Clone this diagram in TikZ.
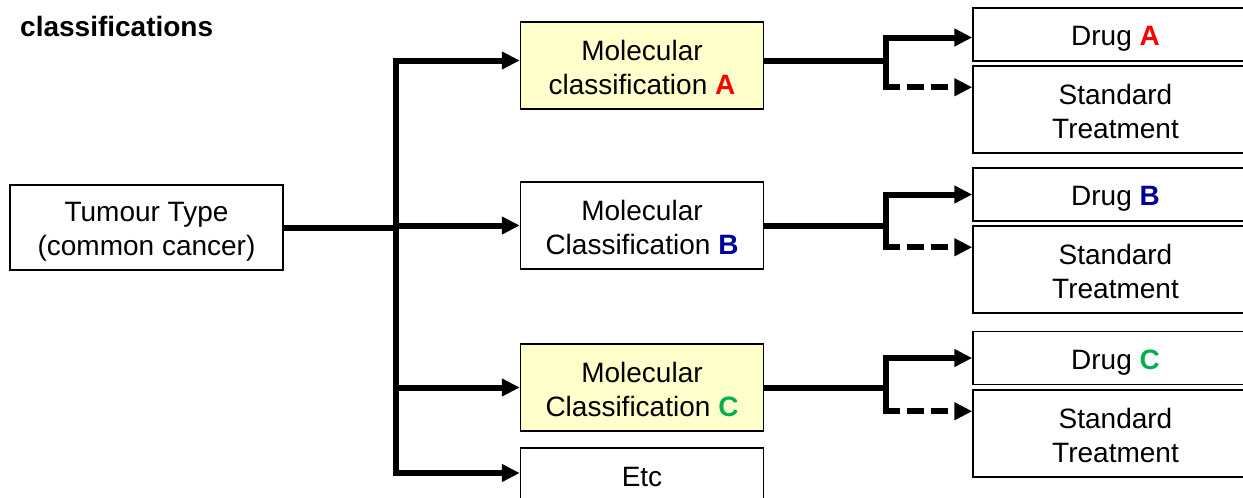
\documentclass[tikz,border=0pt]{standalone}
\usepackage{fontspec}
\setmainfont{Liberation Sans}
\usetikzlibrary{arrows.meta, calc}
\definecolor{molyellow}{HTML}{FFFFCC}
\definecolor{clsred}{HTML}{FF0000}
\definecolor{clsblue}{HTML}{000099}
\definecolor{clsgreen}{HTML}{00B050}
\newcommand{\topgap}[1]{\rule{0pt}{#1}}

\begin{document}
\begin{tikzpicture}[x=1pt, y=-1pt,
        box/.style={draw, line width=1.5pt, align=center, inner sep=0pt,
            font=\fontsize{28}{34}\selectfont},
        molbox/.style={box, minimum width=243pt, minimum height=87pt},
        drugbox/.style={box, minimum width=285pt, minimum height=53pt,
            execute at begin node={\topgap{28pt}}},
        stdbox/.style={box, minimum width=285pt, minimum height=87pt},
        link/.style={line width=6pt, arrows={-Triangle[length=18pt, width=17pt]}}]
        \useasboundingbox (0, 0) rectangle (1243, 498);
        \clip (0, 0) rectangle (1243, 498);
        \node [anchor=base west, inner sep=0pt, font=\bfseries\fontsize{28}{34}\selectfont] (heading) at (20, 36) {classifications};
        \node [box, minimum width=273pt, minimum height=85pt] (tumour) at (146.5, 227.5) {\topgap{28pt}Tumour Type\\(common cancer)};
        \node [molbox, fill=molyellow] (molA) at (642, 65.5) {\topgap{24pt}Molecular\\classification \textbf{\color{clsred}A}};
        \node [molbox] (molB) at (642, 225.5) {\topgap{24pt}Molecular\\Classification \textbf{\color{clsblue}B}};
        \node [molbox, fill=molyellow] (molC) at (642, 387.5) {\topgap{24pt}Molecular\\Classification \textbf{\color{clsgreen}C}};
        \node [box, minimum width=243pt, minimum height=58pt] (etc) at (642, 477) {Etc};
        \node [drugbox] (drugA) at (1115.5, 34.5) {Drug \textbf{\color{clsred}A}};
        \node [stdbox] (stdA) at (1115.5, 109.5) {\topgap{24pt}Standard\\Treatment};
        \node [drugbox] (drugB) at (1115.5, 194.5) {Drug \textbf{\color{clsblue}B}};
        \node [stdbox] (stdB) at (1115.5, 269.5) {\topgap{24pt}Standard\\Treatment};
        \node [drugbox] (drugC) at (1115.5, 358) {Drug \textbf{\color{clsgreen}C}};
        \node [stdbox] (stdC) at (1115.5, 433.5) {\topgap{24pt}Standard\\Treatment};
        \coordinate (trunk) at (396, 227.5);
        \coordinate (outA) at ([yshift=5pt]molA.east);
        \path [draw, link] (tumour.east) -- (trunk) |- ([yshift=5pt]molA.west);
        \path [draw, link] (trunk) |- (molB.west);
        \path [draw, link] (trunk) |- (molC.west);
        \path [draw, link] (trunk) |- ([yshift=4pt]etc.west);
        \draw [link] (outA) -- ++(122, 0) coordinate (brA) |- ([yshift=-3pt]drugA.west);
        \foreach \c in {B, C} {
            \draw [link] (mol\c.east) -- ++(122, 0) coordinate (br\c) |- (drug\c.west);
        }
        \foreach \c in {A, B, C} {
            \coordinate (alt\c) at ($(std\c.north west) + (0, 22)$);
            \draw [line width=6pt] (br\c) -- (br\c |- alt\c);
            \draw [link, dash pattern=on 17pt off 7pt] ([xshift=-3pt]br\c |- alt\c) -- (alt\c);
        }
    \end{tikzpicture}
\end{document}
